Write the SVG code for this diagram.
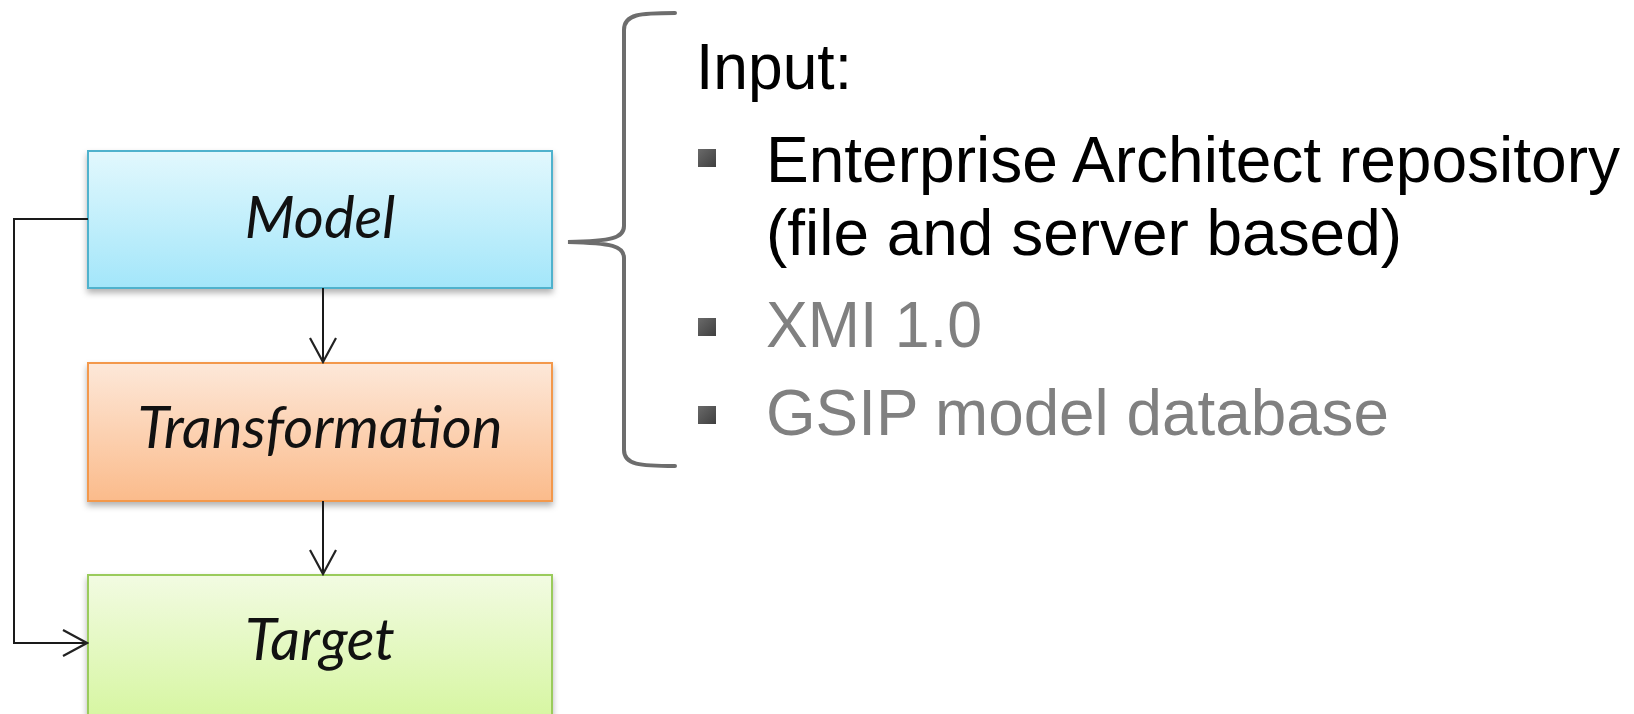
<svg xmlns="http://www.w3.org/2000/svg" width="1634" height="714" viewBox="0 0 1634 714">
<defs>
<linearGradient id="gBlue" x1="0" y1="0" x2="0" y2="1"><stop offset="0" stop-color="#e2f8fd"/><stop offset="1" stop-color="#a3e6fa"/></linearGradient>
<linearGradient id="gOrange" x1="0" y1="0" x2="0" y2="1"><stop offset="0" stop-color="#fde8d9"/><stop offset="1" stop-color="#fbbb8b"/></linearGradient>
<linearGradient id="gGreen" x1="0" y1="0" x2="0" y2="1"><stop offset="0" stop-color="#f2fbe2"/><stop offset="1" stop-color="#d7f6a3"/></linearGradient>
<linearGradient id="gBullet" x1="0" y1="0" x2="1" y2="1"><stop offset="0" stop-color="#6a6a6a"/><stop offset="1" stop-color="#3f3f3f"/></linearGradient>
<filter id="shadow" x="-5%" y="-10%" width="110%" height="130%"><feDropShadow dx="0" dy="4" stdDeviation="3" flood-color="#000" flood-opacity="0.3"/></filter>
<marker id="open" viewBox="0 0 30 30" refX="28" refY="15" markerWidth="30" markerHeight="30" markerUnits="userSpaceOnUse" orient="auto">
<path d="M4 2 L28 15 L4 28" fill="none" stroke="#222" stroke-width="2.2"/>
</marker>
</defs>
<style>
.lbl{font-family:Lato,"Open Sans",sans-serif;font-style:italic;font-size:58px;fill:#111;text-anchor:middle}
.txt{font-family:"Liberation Sans",Arial,sans-serif;font-size:65px}
.blk{fill:#000}
.gry{fill:#808080}
.con{fill:none;stroke:#1a1a1a;stroke-width:2}
</style>
<rect width="1634" height="714" fill="#fff"/>
<g id="model">
<rect x="88" y="151" width="464" height="137" fill="url(#gBlue)" stroke="#4fb2cd" stroke-width="2" filter="url(#shadow)"/>
<text class="lbl" x="320" y="238">Model</text>
</g>
<g id="transformation">
<rect x="88" y="363" width="464" height="138" fill="url(#gOrange)" stroke="#f3984b" stroke-width="2" filter="url(#shadow)"/>
<text class="lbl" x="320" y="448">Transformation</text>
</g>
<g id="target">
<rect x="88" y="575" width="464" height="140" fill="url(#gGreen)" stroke="#9acb5c" stroke-width="2" filter="url(#shadow)"/>
<text class="lbl" x="320" y="660">Target</text>
</g>
<g id="connectors">
<path class="con" d="M323 288 V362" marker-end="url(#open)"/>
<path class="con" d="M323 501 V574" marker-end="url(#open)"/>
<path class="con" d="M88 219 H14 V643 H87" marker-end="url(#open)"/>
</g>
<g id="brace">
<path d="M675 13 C640 13 624 14 624 30 V226 C624 238 612 241 568 242 C612 243 624 246 624 258 V450 C624 465 640 466 675 466" fill="none" stroke="#6d6d6d" stroke-width="4" stroke-linecap="round"/>
</g>
<g id="input-list">
<text class="txt blk" x="696" y="89" textLength="156" lengthAdjust="spacingAndGlyphs">Input:</text>
<rect x="698" y="149" width="18" height="18" fill="url(#gBullet)"/>
<text class="txt blk" x="766" y="182" textLength="854" lengthAdjust="spacingAndGlyphs">Enterprise Architect repository</text>
<text class="txt blk" x="766" y="255" textLength="636" lengthAdjust="spacingAndGlyphs">(file and server based)</text>
<rect x="698" y="318" width="18" height="18" fill="url(#gBullet)"/>
<text class="txt gry" x="766" y="347" textLength="216" lengthAdjust="spacingAndGlyphs">XMI 1.0</text>
<rect x="698" y="406" width="18" height="18" fill="url(#gBullet)"/>
<text class="txt gry" x="766" y="435" textLength="623" lengthAdjust="spacingAndGlyphs">GSIP model database</text>
</g>
</svg>
